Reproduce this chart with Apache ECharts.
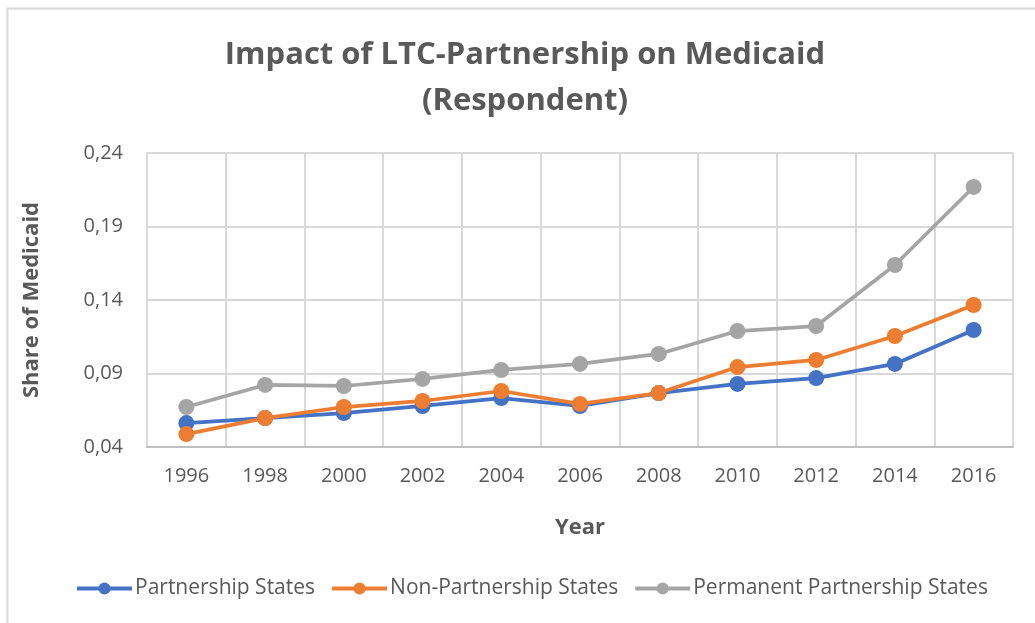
<!DOCTYPE html>
<html>
<head>
<meta charset="utf-8">
<script src="https://cdn.jsdelivr.net/npm/echarts@6/dist/echarts.min.js"></script>
<style>
  html, body { margin: 0; padding: 0; background: #fff; }
  #chart { width: 1035px; height: 623px; }
</style>
</head>
<body>
<div id="chart"></div>
<script>
// values
const years = ['1996', '1998', '2000', '2002', '2004', '2006', '2008', '2010', '2012', '2014', '2016'];
const partnership = [0.0563, 0.0597, 0.0631, 0.0679, 0.0733, 0.0679, 0.0767, 0.0829, 0.0869, 0.0965, 0.1196];
const nonPartnership = [0.0488, 0.0597, 0.0672, 0.0713, 0.0781, 0.0693, 0.0767, 0.0944, 0.0992, 0.1155, 0.1366];
const permanent = [0.0672, 0.0822, 0.0815, 0.0863, 0.0924, 0.0965, 0.1033, 0.1189, 0.1223, 0.1638, 0.2169];

const textColor = '#595959';
const font = '"Open Sans", sans-serif';

function lineSeries(name, data, color) {
  return {
    name: name,
    type: 'line',
    data: data,
    symbol: 'circle',
    symbolSize: 16,
    lineStyle: { width: 3.75, color: color },
    itemStyle: { color: color },
    emphasis: { disabled: true }
  };
}

const chart = echarts.init(document.getElementById('chart'));
chart.setOption({
  animation: false,
  textStyle: { fontFamily: font },
  title: {
    text: 'Impact of LTC-Partnership on Medicaid\n(Respondent)',
    left: 520,
    top: 27,
    textAlign: 'center',
    textStyle: { fontSize: 31, fontWeight: 'bold', color: textColor, lineHeight: 46, fontFamily: font }
  },
  graphic: [{
    type: 'rect',
    shape: { x: 7.5, y: 8.5, width: 1200, height: 800 },
    style: { fill: null, stroke: '#d9d9d9', lineWidth: 2 },
    silent: true
  }],
  legend: {
    left: 75,
    top: 578,
    padding: 0,
    itemWidth: 55,
    itemHeight: 15,
    itemGap: 15,
    lineStyle: { width: 4 },
    textStyle: { fontSize: 21, color: textColor, padding: [0, 0, 0, -2] },
    data: ['Partnership States', 'Non-Partnership States', 'Permanent Partnership States']
  },
  grid: { left: 147, right: 22, top: 153, bottom: 176 },
  xAxis: {
    type: 'category',
    data: years,
    boundaryGap: true,
    name: 'Year',
    nameLocation: 'middle',
    nameGap: 70,
    nameTextStyle: { fontSize: 22, fontWeight: 'bold', color: textColor },
    axisLine: { lineStyle: { color: '#bfbfbf', width: 2 } },
    axisTick: { show: false },
    axisLabel: { fontSize: 20, color: textColor, margin: 19 },
    splitLine: { show: true, lineStyle: { color: '#d9d9d9', width: 2 } }
  },
  yAxis: {
    type: 'value',
    min: 0.04,
    max: 0.24,
    interval: 0.05,
    name: 'Share of Medicaid',
    nameLocation: 'middle',
    nameGap: 104,
    nameRotate: 90,
    nameTextStyle: { fontSize: 22, fontWeight: 'bold', color: textColor },
    axisLine: { show: true, lineStyle: { color: '#d9d9d9', width: 2 } },
    axisTick: { show: false },
    axisLabel: {
      fontSize: 20,
      color: textColor,
      margin: 24,
      formatter: function (v) { return v.toFixed(2).replace('.', ','); }
    },
    splitLine: { lineStyle: { color: '#d9d9d9', width: 2 } }
  },
  series: [
    lineSeries('Partnership States', partnership, '#4472C4'),
    lineSeries('Non-Partnership States', nonPartnership, '#ED7D31'),
    lineSeries('Permanent Partnership States', permanent, '#A5A5A5')
  ]
});
</script>
</body>
</html>
